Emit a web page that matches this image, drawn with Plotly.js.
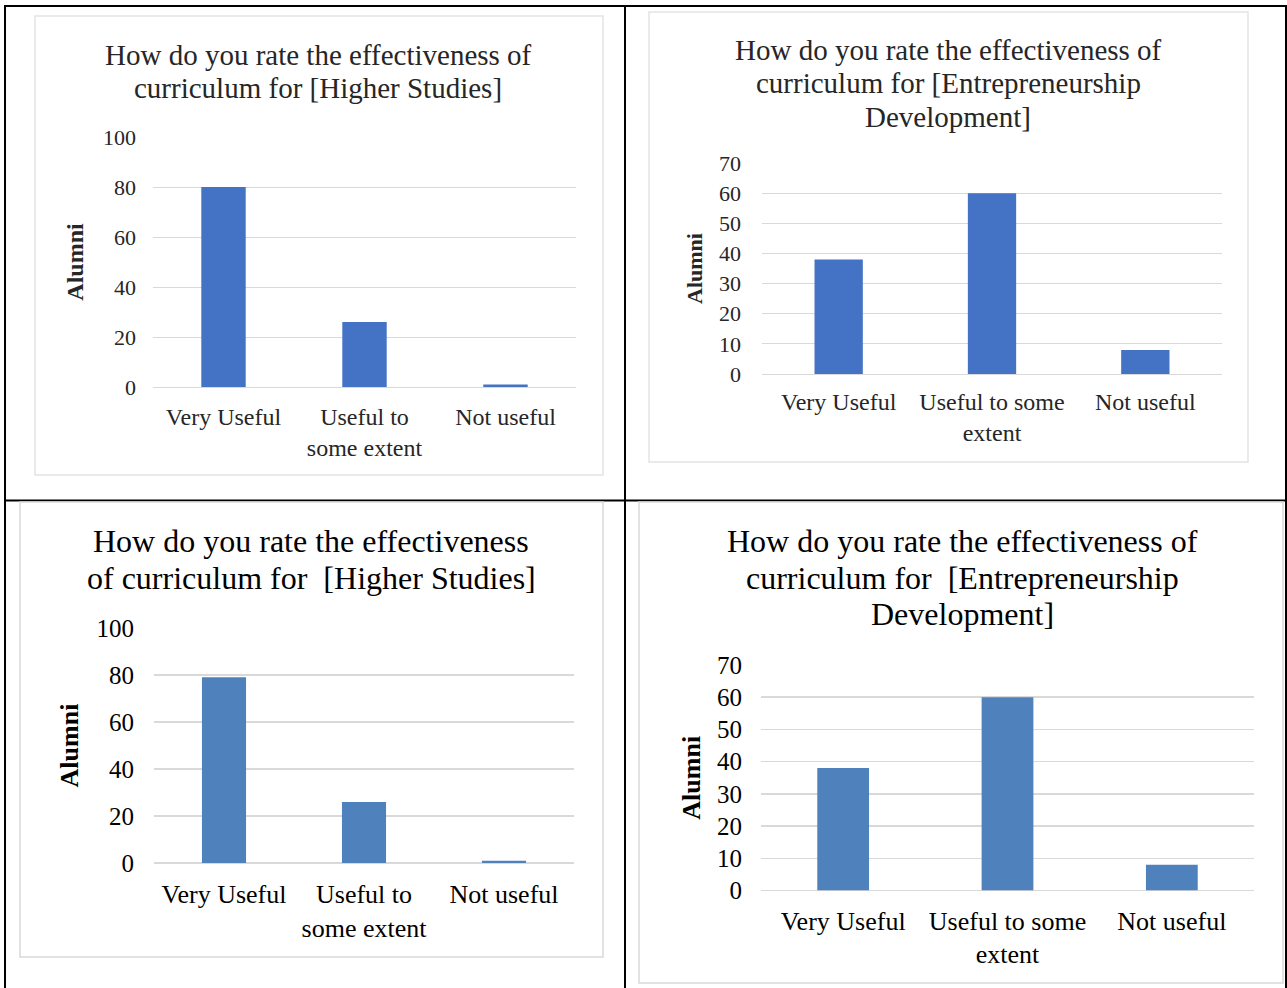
<!DOCTYPE html>
<html>
<head>
<meta charset="utf-8">
<script src="https://cdn.plot.ly/plotly-3.0.1.min.js"></script>
<style>
  html, body { margin: 0; padding: 0; background: #ffffff; }
  #chart { width: 1287px; height: 988px; }
</style>
</head>
<body>
<div id="chart"></div>
<script>
// ---------- DATA ----------
const categoriesHigherTop = ["Very Useful", "Useful to<br>some extent", "Not useful"];
const categoriesEntreTop = ["Very Useful", "Useful to some<br>extent", "Not useful"];
const categoriesHigherBottom = ["Very Useful", "Useful to<br>some extent", "Not useful"];
const categoriesEntreBottom = ["Very Useful", "Useful to some<br>extent", "Not useful"];

const higherStudiesTop = [80, 26, 1];
const entrepreneurshipTop = [38, 60, 8];
const higherStudiesBottom = [79, 26, 1];
const entrepreneurshipBottom = [38, 60, 8];

const titleHigherTop = ["How do you rate the effectiveness of", "curriculum for [Higher Studies]"];
const titleEntreTop = ["How do you rate the effectiveness of", "curriculum for [Entrepreneurship", "Development]"];
const titleHigherBottom = ["How do you rate the effectiveness", "of curriculum for  [Higher Studies]"];
const titleEntreBottom = ["How do you rate the effectiveness of", "curriculum for  [Entrepreneurship", "Development]"];

const yAxisLabel = "Alumni";

// ---------- LAYOUT HELPERS ----------
const W = 1287, H = 988;
const X = p => p / W;
const Y = p => 1 - p / H;
const SERIF = '"Liberation Serif", "Times New Roman", serif';
const topBlue = "#4472C4";
const bottomBlue = "#4F81BD";
const gridGray = "#d9d9d9";

const traces = [
  { type: "bar", x: categoriesHigherTop, y: higherStudiesTop, xaxis: "x", yaxis: "y",
    marker: { color: topBlue }, hoverinfo: "x+y" },
  { type: "bar", x: categoriesEntreTop, y: entrepreneurshipTop, xaxis: "x2", yaxis: "y2",
    marker: { color: topBlue }, hoverinfo: "x+y" },
  { type: "bar", x: categoriesHigherBottom, y: higherStudiesBottom, xaxis: "x3", yaxis: "y3",
    marker: { color: bottomBlue }, hoverinfo: "x+y" },
  { type: "bar", x: categoriesEntreBottom, y: entrepreneurshipBottom, xaxis: "x4", yaxis: "y4",
    marker: { color: bottomBlue }, hoverinfo: "x+y" }
];

function xAxis(x0, x1, anchor, fontSize, color, standoff) {
  return {
    domain: [X(x0), X(x1)], anchor: anchor, type: "category",
    showgrid: false, zeroline: false, showline: false, ticks: "",
    tickfont: { family: SERIF, size: fontSize, color: color },
    ticklabelstandoff: standoff, fixedrange: true
  };
}
function yAxis(yBottom, yTop, anchor, maxV, dtick, fontSize, color, titleSize, titleStandoff, gridW, labelStandoff) {
  return {
    domain: [Y(yBottom), Y(yTop)], anchor: anchor,
    range: [0, maxV], dtick: dtick, tick0: 0,
    showgrid: true, gridcolor: gridGray, gridwidth: gridW,
    zeroline: true, zerolinecolor: gridGray, zerolinewidth: gridW,
    showline: false, ticks: "",
    tickfont: { family: SERIF, size: fontSize, color: color },
    ticklabelstandoff: labelStandoff,
    title: { text: "<b>" + yAxisLabel + "</b>", standoff: titleStandoff,
             font: { family: SERIF, size: titleSize, color: color } },
    fixedrange: true
  };
}

const annotations = [];
function titleLines(lines, cx, ys, size, color) {
  lines.forEach((t, i) => {
    annotations.push({
      text: t, xref: "paper", yref: "paper", x: X(cx), y: Y(ys[i]),
      xanchor: "center", yanchor: "middle", showarrow: false,
      font: { family: SERIF, size: size, color: color }
    });
  });
}
titleLines(titleHigherTop, 318, [55, 88], 29, "#262626");
titleLines(titleEntreTop, 948, [50, 83, 117], 29, "#262626");
titleLines(titleHigherBottom, 311, [541, 578], 32, "#000000");
titleLines(titleEntreBottom, 962, [541, 578, 614], 32, "#000000");

function rect(x0, y0, x1, y1, color, w) {
  return { type: "rect", xref: "paper", yref: "paper",
    x0: X(x0), x1: X(x1), y0: Y(y1), y1: Y(y0),
    line: { color: color, width: w }, fillcolor: "rgba(0,0,0,0)" };
}
function line(x0, y0, x1, y1, color, w) {
  return { type: "line", xref: "paper", yref: "paper",
    x0: X(x0), x1: X(x1), y0: Y(y0), y1: Y(y1),
    line: { color: color, width: w } };
}

const shapes = [
  // table grid
  line(5, 6, 1287, 6, "#000", 2),
  line(5, 500.5, 1287, 500.5, "#000", 2),
  line(5, 5, 5, 988, "#000", 2),
  line(625, 5, 625, 988, "#000", 2),
  line(1286, 5, 1286, 988, "#000", 2),
  // chart frames
  rect(35, 16, 603, 475, "#e3e3e3", 1.5),
  rect(649, 12, 1248, 462, "#e3e3e3", 1.5),
  rect(20, 502, 603, 957, "#d9d9d9", 1.5),
  rect(639, 502, 1283, 983, "#d9d9d9", 1.5)
];

const layout = {
  width: W, height: H,
  margin: { l: 0, r: 0, t: 0, b: 0 },
  paper_bgcolor: "#ffffff", plot_bgcolor: "rgba(0,0,0,0)",
  showlegend: false, bargap: 0.685,
  xaxis: xAxis(153, 576, "y", 24, "#262626", 13),
  yaxis: yAxis(387, 137, "x", 100, 20, 22, "#262626", 24, 12, 1, 16),
  xaxis2: xAxis(762, 1222, "y2", 24, "#262626", 11),
  yaxis2: yAxis(374, 163, "x2", 70, 10, 22, "#262626", 22, 10, 1, 20),
  xaxis3: xAxis(154, 574, "y3", 26, "#000000", 13),
  yaxis3: yAxis(863, 628, "x3", 100, 20, 25, "#000000", 26, 10, 1.5, 19),
  xaxis4: xAxis(761, 1254, "y4", 26, "#000000", 12),
  yaxis4: yAxis(890.5, 665, "x4", 70, 10, 25, "#000000", 26, 8, 1.5, 18),
  annotations: annotations,
  shapes: shapes,
  font: { family: SERIF }
};

Plotly.newPlot("chart", traces, layout, { displayModeBar: false, staticPlot: true });
</script>
</body>
</html>
